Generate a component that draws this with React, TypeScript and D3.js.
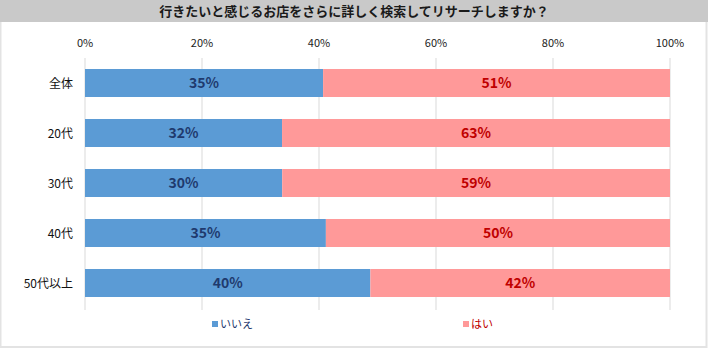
import React from "react";
import * as d3 from "d3";

const categories = ["全体", "20代", "30代", "40代", "50代以上"];
const noValues = [35, 32, 30, 35, 40];
const yesValues = [51, 63, 59, 50, 42];
const seriesNames = ["いいえ", "はい"];
const tickValues = [0, 0.2, 0.4, 0.6, 0.8, 1.0];
const title = "行きたいと感じるお店をさらに詳しく検索してリサーチしますか？";

const W = 709;
const H = 357;
const FONT = "'Noto Sans CJK JP', 'Noto Sans', sans-serif";
const BLUE = "#5b9bd5";
const PINK = "#ff9999";

export default function App() {
  const x = d3.scaleLinear().domain([0, 1]).range([85, 670]);
  const y = d3.scaleBand().domain(categories).range([58, 308]).paddingInner(0.44).paddingOuter(0.22);
  const rows = categories.map((c, i) => {
    const tot = noValues[i] + yesValues[i];
    return { c, no: noValues[i], yes: yesValues[i], pNo: noValues[i] / tot };
  });
  return (
    <div style={{ position: "fixed", left: 0, top: 0 }}>
      <svg width={W} height={H} style={{ display: "block", fontFamily: FONT }}>
        <rect x={0} y={0} width={W} height={H} fill="#fff" />
        <rect x={0.5} y={0.5} width={706} height={346.5} fill="#fff" stroke="#e3e3e3" strokeWidth={2} />
        <rect x={0} y={0} width={708} height={22} fill="#c9c9c9" />
        <text x={354} y={15.5} textAnchor="middle" fontSize={13} fontWeight="bold" fill="#1a1a1a">{title}</text>
        {tickValues.map((t) => (
          <g key={t}>
            <line x1={x(t)} x2={x(t)} y1={58} y2={310} stroke="#d9d9d9" strokeWidth={1} />
            <text x={x(t)} y={47} textAnchor="middle" fontSize={11} fill="#222">{d3.format(".0%")(t)}</text>
          </g>
        ))}
        {rows.map((r) => {
          const y0 = y(r.c)!;
          const bh = y.bandwidth();
          const xm = x(r.pNo);
          return (
            <g key={r.c}>
              <rect x={x(0)} y={y0} width={xm - x(0)} height={bh} fill={BLUE} />
              <rect x={xm} y={y0} width={x(1) - xm} height={bh} fill={PINK} />
              <text x={(x(0) + xm) / 2} y={y0 + bh / 2 + 5} textAnchor="middle" fontSize={14} fontWeight="bold" fill="#1f3a6e">{r.no}%</text>
              <text x={(xm + x(1)) / 2} y={y0 + bh / 2 + 5} textAnchor="middle" fontSize={14} fontWeight="bold" fill="#c00000">{r.yes}%</text>
              <text x={73} y={y0 + bh / 2 + 4.5} textAnchor="end" fontSize={12} fill="#111">{r.c}</text>
            </g>
          );
        })}
        <rect x={212} y={321} width={6} height={6} fill={BLUE} />
        <text x={220} y={328} fontSize={11} fill="#1f3a6e">{seriesNames[0]}</text>
        <rect x={463} y={321} width={6} height={6} fill={PINK} />
        <text x={471} y={328} fontSize={11} fill="#c00000">{seriesNames[1]}</text>
      </svg>
    </div>
  );
}
